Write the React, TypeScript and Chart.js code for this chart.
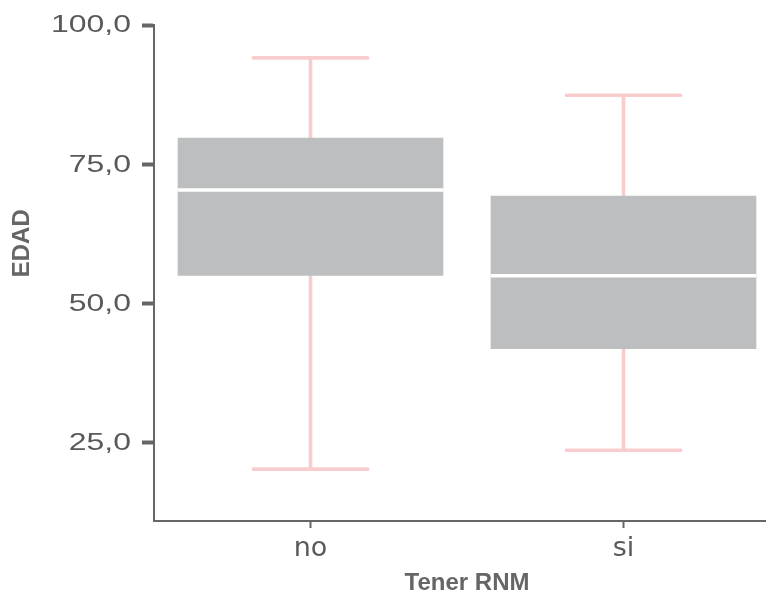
import React, { useEffect, useRef } from "react";
import { Chart, registerables } from "chart.js";

Chart.register(...registerables);

const categories = ["no", "si"];
const whiskerMin = [20.3, 23.7];
const q1 = [55.05, 41.9];
const median = [70.4, 55.0];
const q3 = [79.7, 69.3];
const whiskerMax = [94.1, 87.4];
const yTickValues = [25, 50, 75, 100];
const yMin = 11.0;
const yMax = 100;

const xTitle = "Tener RNM";
const yTitle = "EDAD";

const BOX = "#bdbec0";
const PINK = "#f9cdcd";
const AXIS = "#666666";
const TICK_TEXT = "#595959";
const HALF = 0.27; // half thickness of thin lines, in value units

const fmt = (v: number) => Number(v).toFixed(1).replace(".", ",");

// Draws the y title and the (horizontally wide) y tick labels from the y scale's ticks
const textPlugin = {
  id: "axisText",
  afterDraw(chart: any) {
    const ctx = chart.ctx;
    const area = chart.chartArea;
    const y = chart.scales.y;
    ctx.save();
    ctx.fillStyle = AXIS;
    ctx.font = "bold 24px 'Liberation Sans', Arial, sans-serif";
    ctx.textAlign = "center";
    ctx.textBaseline = "middle";
    ctx.translate(22, area.top + (area.bottom - area.top) * 0.44);
    ctx.rotate(-Math.PI / 2);
    ctx.fillText(yTitle, 0, 0);
    ctx.restore();

    const sx = 1.36;
    const rightX = 131;
    y.ticks.forEach((t: any) => {
      const py = y.getPixelForValue(t.value);
      ctx.save();
      ctx.fillStyle = TICK_TEXT;
      ctx.font = "23.5px 'Liberation Sans', Arial, sans-serif";
      ctx.textAlign = "right";
      ctx.textBaseline = "middle";
      ctx.translate(rightX, py + 1);
      ctx.scale(sx, 1);
      ctx.fillText(fmt(t.value), 0, 0);
      ctx.restore();
    });
  },
};

export default function App() {
  const ref = useRef<HTMLCanvasElement | null>(null);

  useEffect(() => {
    if (!ref.current) return;
    const chart = new Chart(ref.current, {
      type: "bar",
      data: {
        labels: categories,
        datasets: [
          {
            data: median.map((m) => [m - HALF, m + HALF]),
            backgroundColor: "#ffffff",
            barThickness: 265,
            grouped: false,
          } as any,
          {
            data: q1.map((a, i) => [a, q3[i]]),
            backgroundColor: BOX,
            barThickness: 265,
            grouped: false,
          } as any,
          {
            data: whiskerMax.map((v) => [v - HALF, v + HALF]),
            backgroundColor: PINK,
            barThickness: 117,
            borderRadius: 1.5,
            borderSkipped: false,
            grouped: false,
          } as any,
          {
            data: whiskerMin.map((v) => [v - HALF, v + HALF]),
            backgroundColor: PINK,
            barThickness: 117,
            borderRadius: 1.5,
            borderSkipped: false,
            grouped: false,
          } as any,
          {
            data: whiskerMin.map((v, i) => [v, whiskerMax[i]]),
            backgroundColor: PINK,
            barThickness: 3,
            grouped: false,
          } as any,
        ],
      },
      options: {
        animation: false,
        responsive: true,
        maintainAspectRatio: false,
        layout: { padding: { top: 25, right: 2, left: 0, bottom: 0 } },
        plugins: {
          legend: { display: false },
          tooltip: { enabled: false },
        },
        scales: {
          x: {
            type: "category",
            offset: true,
            grid: {
              display: true,
              offset: false,
              drawOnChartArea: false,
              drawTicks: true,
              tickLength: 7,
              tickWidth: 2,
              color: AXIS,
            },
            border: { display: true, color: AXIS, width: 2 },
            ticks: {
              color: TICK_TEXT,
              padding: 5,
              font: { family: "'DejaVu Sans', sans-serif", size: 27 },
            },
            title: {
              display: true,
              text: xTitle,
              color: AXIS,
              font: { family: "'Liberation Sans', Arial, sans-serif", size: 24, weight: "bold" },
              padding: { top: 0, bottom: -8 },
            },
            afterFit: (scale: any) => {
              scale.height = 69;
            },
          },
          y: {
            type: "linear",
            min: yMin,
            max: yMax,
            afterBuildTicks: (scale: any) => {
              scale.ticks = yTickValues.map((v) => ({ value: v }));
            },
            grid: {
              display: true,
              drawOnChartArea: false,
              drawTicks: true,
              tickLength: 12,
              tickWidth: 4,
              color: AXIS,
            },
            border: { display: true, color: AXIS, width: 2 },
            ticks: {
              display: false,
              callback: (v: any) => fmt(v),
            },
            afterFit: (scale: any) => {
              scale.width = 154;
            },
          },
        },
      },
      plugins: [textPlugin],
    });
    return () => chart.destroy();
  }, []);

  return (
    <div style={{ position: "fixed", left: 0, top: 0, width: 782, height: 590, background: "#fff" }}>
      <canvas ref={ref} />
    </div>
  );
}
